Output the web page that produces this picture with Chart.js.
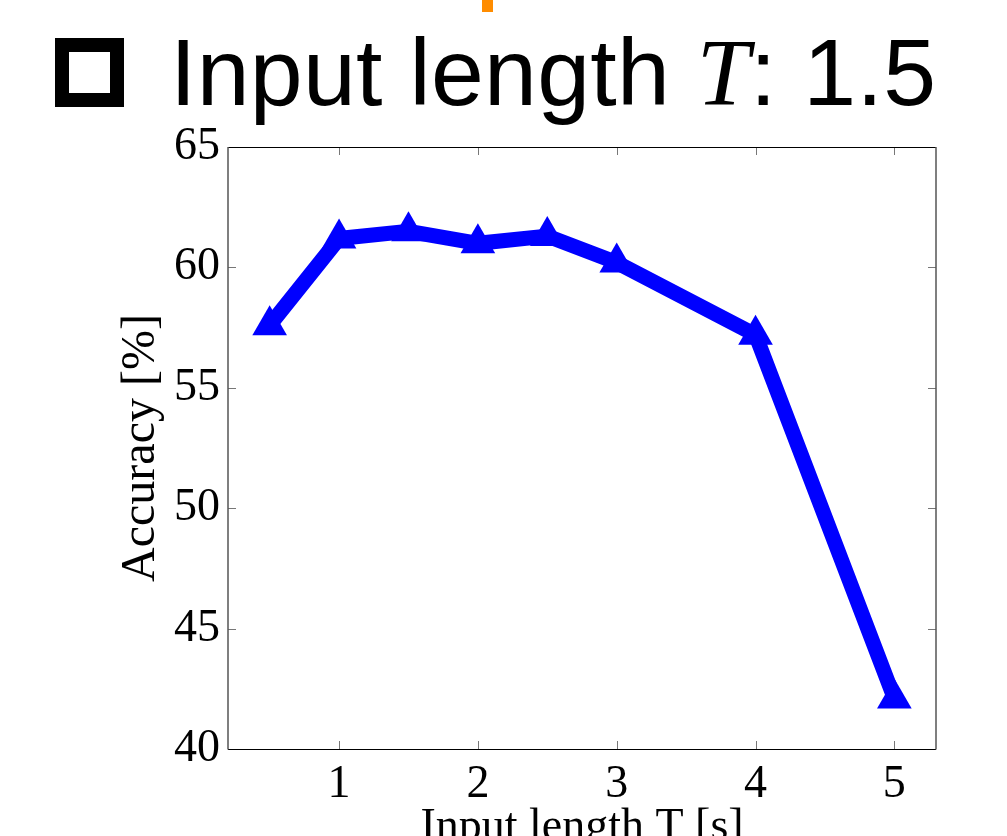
<!DOCTYPE html>
<html>
<head>
<meta charset="utf-8">
<script src="https://cdn.jsdelivr.net/npm/chart.js@4.4.1/dist/chart.umd.min.js"></script>
<style>
  html, body { margin: 0; padding: 0; background: #fff; overflow: hidden; }
  #wrap { position: relative; width: 1007px; height: 836px; }
  #c { position: absolute; left: 0; top: 0; }
  #box { position: absolute; left: 55px; top: 38px; width: 69px; height: 69px; box-sizing: border-box; border: 14px solid #000; }
  #head { position: absolute; left: 170px; top: 25px; font-family: "Liberation Sans", Arial, sans-serif; font-size: 95px; line-height: 1; color: #000; white-space: nowrap; letter-spacing: 0.3px; }
  #head i { font-family: "Liberation Serif", "Times New Roman", serif; font-style: italic; }
  #mark { position: absolute; left: 482px; top: 0; width: 11px; height: 12px; background: #ff8c00; }
</style>
</head>
<body>
<div id="wrap">
  <canvas id="c" width="1007" height="836"></canvas>
  <div id="mark"></div>
  <div id="box"></div>
  <div id="head">Input length <i>T</i>: 1.5</div>
</div>
<script>
// ---- data ----
const inputLength = [0.5, 1, 1.5, 2, 2.5, 3, 4, 5];
const accuracy = [57.6, 61.2, 61.5, 61.0, 61.3, 60.2, 57.2, 42.1];
const xTickValues = [1, 2, 3, 4, 5];
const yTickValues = [40, 45, 50, 55, 60, 65];
const xTitle = "Input length T [s]";
const yTitle = "Accuracy [%]";

const CHART_LEFT = 228, CHART_RIGHT = 936, CHART_TOP = 147, CHART_BOTTOM = 749;

const boxTicks = {
  id: 'boxTicks',
  afterDatasetsDraw(chart) {
    const {ctx, chartArea: a, scales: {x, y}} = chart;
    ctx.save();
    ctx.lineWidth = 1;
    ctx.strokeStyle = '#777';
    const tl = 8;
    ctx.beginPath();
    xTickValues.forEach(v => {
      const px = Math.round(x.getPixelForValue(v)) + 0.5;
      ctx.moveTo(px, a.bottom); ctx.lineTo(px, a.bottom - tl);
      ctx.moveTo(px, a.top); ctx.lineTo(px, a.top + tl);
    });
    yTickValues.forEach(v => {
      const py = Math.round(y.getPixelForValue(v)) + 0.5;
      ctx.moveTo(a.left, py); ctx.lineTo(a.left + tl, py);
      ctx.moveTo(a.right, py); ctx.lineTo(a.right - tl, py);
    });
    ctx.stroke();
    ctx.strokeStyle = '#000';
    ctx.beginPath();
    ctx.moveTo(a.left, Math.round(a.top) + 0.5); ctx.lineTo(a.right, Math.round(a.top) + 0.5);
    ctx.moveTo(a.left, Math.round(a.bottom) + 0.5); ctx.lineTo(a.right, Math.round(a.bottom) + 0.5);
    ctx.stroke();
    ctx.strokeStyle = '#555';
    ctx.lineWidth = 1.5;
    ctx.beginPath();
    ctx.moveTo(a.left, a.top); ctx.lineTo(a.left, a.bottom + 0.5);
    ctx.moveTo(a.right, a.top); ctx.lineTo(a.right, a.bottom + 0.5);
    ctx.stroke();
    ctx.restore();
  }
};

new Chart(document.getElementById('c'), {
  type: 'line',
  data: {
    datasets: [{
      data: inputLength.map((v, i) => ({x: v, y: accuracy[i]})),
      borderColor: '#0000ff',
      backgroundColor: '#0000ff',
      borderWidth: 15,
      borderJoinStyle: 'miter',
      borderCapStyle: 'butt',
      tension: 0,
      pointStyle: 'triangle',
      pointRadius: 20,
      pointHoverRadius: 20,
      pointBorderWidth: 0,
      pointBackgroundColor: '#0000ff',
      clip: false
    }]
  },
  options: {
    responsive: false,
    animation: false,
    events: [],
    layout: { padding: { top: CHART_TOP, right: 1007 - CHART_RIGHT, left: 0, bottom: 0 } },
    plugins: { legend: { display: false }, tooltip: { enabled: false } },
    scales: {
      x: {
        type: 'linear',
        min: 0.2, max: 5.3,
        afterBuildTicks: s => { s.ticks = xTickValues.map(v => ({value: v})); },
        afterFit: s => { s.height = 836 - CHART_BOTTOM; },
        grid: { display: false, drawTicks: false },
        border: { display: false },
        ticks: {
          color: '#000',
          padding: 8,
          maxRotation: 0,
          font: { family: '"Liberation Serif", "Times New Roman", serif', size: 46 }
        },
        title: {
          display: true, text: xTitle, color: '#000',
          padding: { top: 0, bottom: -20 },
          font: { family: '"Liberation Serif", "Times New Roman", serif', size: 46, lineHeight: 1.2 }
        }
      },
      y: {
        type: 'linear',
        min: 40, max: 65,
        afterBuildTicks: s => { s.ticks = yTickValues.map(v => ({value: v})); },
        afterFit: s => { s.width = CHART_LEFT; },
        grid: { display: false, drawTicks: false },
        border: { display: false },
        ticks: {
          color: '#000',
          padding: 8,
          font: { family: '"Liberation Serif", "Times New Roman", serif', size: 46 }
        },
        title: {
          display: true, text: yTitle, color: '#000',
          padding: { top: 113, bottom: 0 },
          font: { family: '"Liberation Serif", "Times New Roman", serif', size: 48, lineHeight: 1.2 }
        }
      }
    }
  },
  plugins: [boxTicks]
});
</script>
</body>
</html>
